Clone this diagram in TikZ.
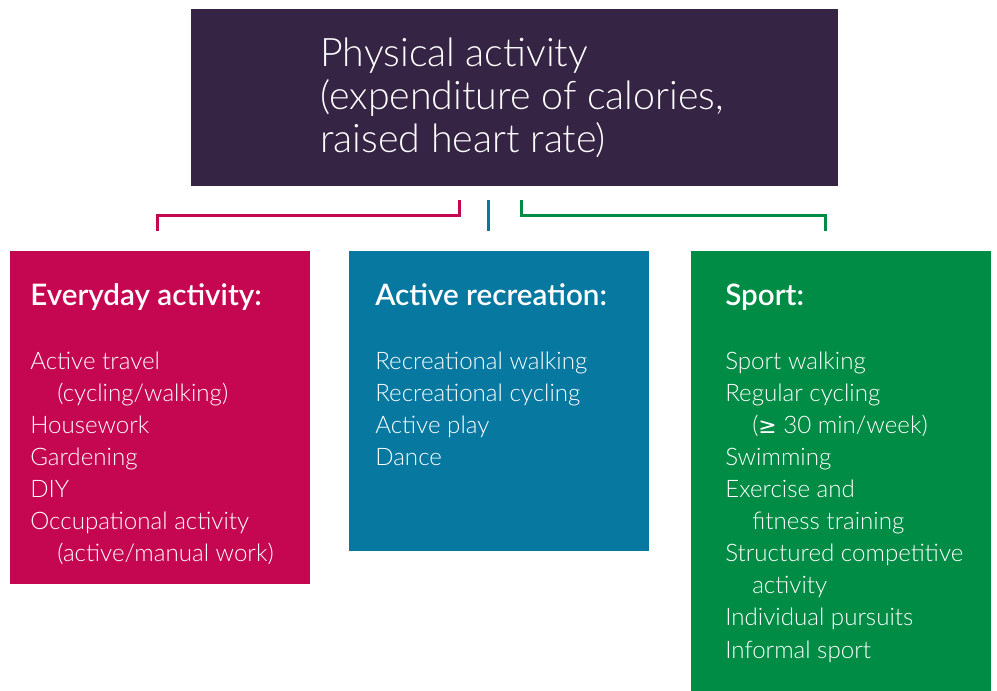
\documentclass[tikz,border=0pt]{standalone}
\usepackage{fontspec}
\setmainfont{Lato Light}[BoldFont={Lato Semibold}]
\newfontfamily\symfont{DejaVu Sans}
\definecolor{topcol}{RGB}{54,36,69}
\definecolor{magcol}{RGB}{196,7,80}
\definecolor{bluecol}{RGB}{7,120,160}
\definecolor{greencol}{RGB}{0,140,68}
\tikzset{
  panel/.style={anchor=north west, inner sep=0pt, outer sep=0pt},
  maintxt/.style={anchor=base west, inner sep=0pt, text=white, font=\fontsize{29.5}{31}\selectfont},
  headtxt/.style={anchor=base west, inner sep=0pt, text=white, font=\fontsize{22.2}{24}\selectfont\bfseries},
  itemtxt/.style={anchor=base west, inner sep=0pt, text=white, font=\fontsize{18.1}{19}\selectfont},
  link/.style={line width=2.25pt}
}
\begin{document}
\begin{tikzpicture}[x=0.75pt,y=-0.75pt]
\useasboundingbox (0,0) rectangle (997,691);
% panels
\node[panel, fill=topcol, minimum width=485.25pt, minimum height=132.75pt] (top) at (191,9) {};
\node[panel, fill=magcol, minimum width=225pt, minimum height=249.75pt] (every) at (10,251) {};
\node[panel, fill=bluecol, minimum width=225pt, minimum height=225pt] (recr) at (349,251) {};
\node[panel, fill=greencol, minimum width=225pt, minimum height=330pt] (sport) at (691,251) {};
% main title
\node[maintxt] (t1) at (320,67) {Physical activity};
\node[maintxt] (t2) at (320,110) {(expenditure of calories,};
\node[maintxt] (t3) at (320,153) {raised heart rate)};
% connectors
\coordinate (ma) at (459,200);
\coordinate (mb) at (157,216);
\coordinate (mc) at (157,231);
\coordinate (ba) at (488,200);
\coordinate (bb) at (488,231);
\coordinate (ga) at (521,200);
\coordinate (gb) at (825,216);
\coordinate (gc) at (825,231);
\draw[link, magcol] (ma) |- (mb) -- (mc);
\draw[link, bluecol] (ba) -- (bb);
\draw[link, greencol] (ga) |- (gb) -- (gc);
% everyday
\node[headtxt] (h1) at (30,306) {Everyday activity:};
\node[itemtxt] (e1) at (30,370) {Active travel};
\node[itemtxt] (e2) at (57,402) {(cycling/walking)};
\node[itemtxt] (e3) at (30,434) {Housework};
\node[itemtxt] (e4) at (30,466) {Gardening};
\node[itemtxt] (e5) at (30,498) {DIY};
\node[itemtxt] (e6) at (30,530) {Occupational activity};
\node[itemtxt] (e7) at (57,562) {(active/manual work)};
% recreation
\node[headtxt] (h2) at (375,306) {Active recreation:};
\node[itemtxt] (r1) at (375,370) {Recreational walking};
\node[itemtxt] (r2) at (375,402) {Recreational cycling};
\node[itemtxt] (r3) at (375,434) {Active play};
\node[itemtxt] (r4) at (375,466) {Dance};
% sport
\node[headtxt] (h3) at (725,306) {Sport:};
\node[itemtxt] (s1) at (725,370) {Sport walking};
\node[itemtxt] (s2) at (725,402) {Regular cycling};
\node[itemtxt] (s3) at (752,434) {({\symfont\fontsize{16.4}{19}\selectfont ≥} 30 min/week)};
\node[itemtxt] (s4) at (725,466) {Swimming};
\node[itemtxt] (s5) at (725,498) {Exercise and};
\node[itemtxt] (s6) at (752,530) {fitness training};
\node[itemtxt] (s7) at (725,562) {Structured competitive};
\node[itemtxt] (s8) at (752,594) {activity};
\node[itemtxt] (s9) at (725,626) {Individual pursuits};
\node[itemtxt] (s10) at (725,658) {Informal sport};
\end{tikzpicture}
\end{document}
